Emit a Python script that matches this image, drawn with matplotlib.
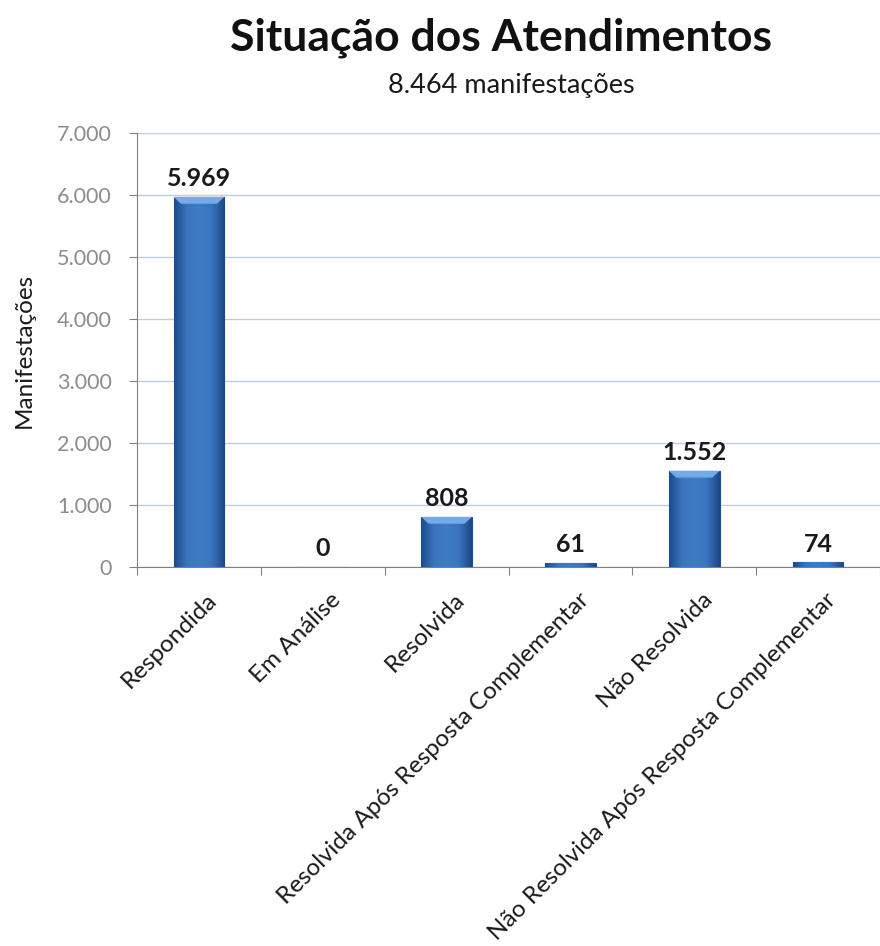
import numpy as np
import matplotlib.pyplot as plt
from matplotlib.colors import LinearSegmentedColormap
from matplotlib.patches import Polygon

categories = ['Respondida', 'Em Análise', 'Resolvida',
              'Resolvida Após Resposta Complementar', 'Não Resolvida',
              'Não Resolvida Após Resposta Complementar']
values = [5969, 0, 808, 61, 1552, 74]
value_labels = ['5.969', '0', '808', '61', '1.552', '74']
yticks = [0, 1000, 2000, 3000, 4000, 5000, 6000, 7000]
ytick_labels = ['0', '1.000', '2.000', '3.000', '4.000', '5.000', '6.000', '7.000']

plt.rcParams['font.family'] = ['Lato', 'DejaVu Sans']

fig = plt.figure(figsize=(8.8, 9.46), dpi=100)
ax = fig.add_axes([137 / 880, 1 - 567 / 946, (880 - 137) / 880, (567 - 133) / 946])

x = np.arange(len(categories))
width = 0.41
bars = ax.bar(x, values, width=width, color='#3C72B8', edgecolor='#1F4E8C',
              linewidth=0.8, zorder=3)

# horizontal gradient to mimic the bevelled bars
cmap = LinearSegmentedColormap.from_list('bev', ['#1E4C8A', '#3A74BE', '#3F7CC6', '#3A74BE', '#1C4884'])
grad = np.linspace(0, 1, 64).reshape(1, -1)
for b, v in zip(bars, values):
    if v <= 0:
        continue
    x0 = b.get_x()
    im = ax.imshow(grad, cmap=cmap, aspect='auto', zorder=3,
                   extent=(x0, x0 + width, 0, v), interpolation='bicubic')
    im.set_clip_path(b)
    if v > 300:
        # light bevel on top
        h = 110
        d = 0.06
        ax.add_patch(Polygon([(x0, v), (x0 + width, v), (x0 + width - d, v - h), (x0 + d, v - h)],
                             closed=True, facecolor='#72AAEA', edgecolor='none', zorder=4))

for xi, v, lab in zip(x, values, value_labels):
    ax.text(xi, v + 110, lab, ha='center', va='bottom', fontsize=18,
            fontweight='bold', color='#1a1a1a', zorder=5)

ax.set_xlim(-0.5, 5.4)
ax.set_ylim(0, 7000)
ax.set_yticks(yticks)
ax.set_yticklabels(ytick_labels, fontsize=15.5, color='#8c8c8c')
ax.set_xticks(np.arange(-0.5, 6, 1.0))
ax.set_xticklabels([])
ax.set_xticks(x + 0.06, minor=True)
ax.set_xticklabels(categories, minor=True, rotation=45, ha='right',
                   rotation_mode='anchor', fontsize=17.5, color='#1a1a1a')
ax.tick_params(axis='x', which='minor', length=0, pad=16)
ax.tick_params(axis='x', which='major', length=6, color='#808080', direction='out')
ax.tick_params(axis='y', length=6, color='#808080', direction='out', pad=12)

ax.grid(axis='y', color='#bccbe8', linewidth=1, zorder=0)
ax.set_axisbelow(True)
for s in ['top', 'right']:
    ax.spines[s].set_visible(False)
for s in ['left', 'bottom']:
    ax.spines[s].set_color('#808080')

ax.set_ylabel('Manifestações', fontsize=17.5, color='#1a1a1a', labelpad=16)

fig.text(0.569, 0.960, 'Situação dos Atendimentos', ha='center', va='center',
         fontsize=32, fontweight='bold', color='#111111')
fig.text(0.581, 0.910, '8.464 manifestações', ha='center', va='center',
         fontsize=19.5, color='#1a1a1a')

fig.savefig('out.png', dpi=100)
